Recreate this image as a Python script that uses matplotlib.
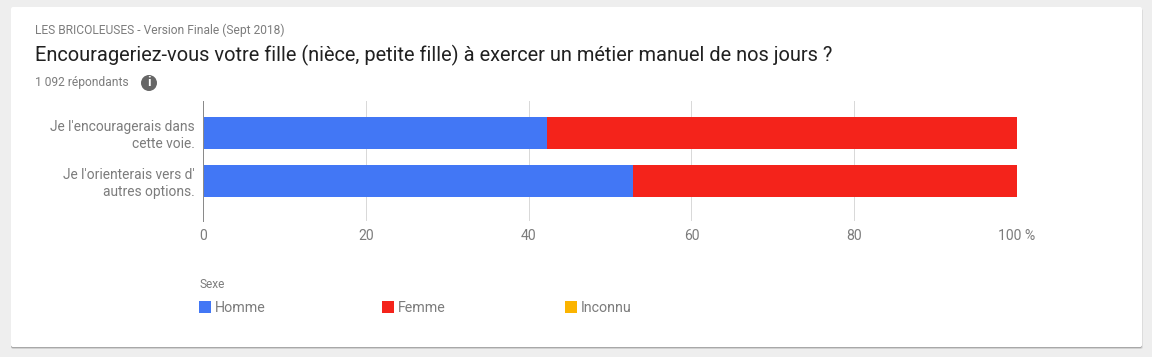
import matplotlib
matplotlib.use('Agg')
import matplotlib.pyplot as plt
from matplotlib.patches import Rectangle, Circle, FancyBboxPatch
from matplotlib.transforms import ScaledTranslation

plt.rcParams['font.family'] = ['Roboto', 'DejaVu Sans']

categories = ["Je l'encouragerais dans\ncette voie.", "Je l'orienterais vers d'\nautres options."]
homme = [42.2, 52.8]
femme = [57.8, 47.2]
inconnu = [0, 0]
ticks = [0, 20, 40, 60, 80, 100]
tick_labels = ['0', '20', '40', '60', '80', '100 %']
series_names = ['Homme', 'Femme', 'Inconnu']
colors = ['#4277f5', '#f4231b', '#fbb400']
grey = '#7c7c7c'

W, H = 1152, 357
fig = plt.figure(figsize=(W / 100, H / 100), dpi=100, facecolor='#eeeeee')

# background layer in pixel coordinates, y going down
bg = fig.add_axes([0, 0, 1, 1], zorder=0)
bg.set_xlim(0, W)
bg.set_ylim(H, 0)
bg.axis('off')
bg.add_patch(FancyBboxPatch((11, 9), 1132, 340, boxstyle='round,pad=0,rounding_size=2', fc='#dcdcdc', ec='none'))
bg.add_patch(FancyBboxPatch((11, 8.2), 1131, 340, boxstyle='round,pad=0,rounding_size=2', fc='#a8a8a8', ec='none'))
bg.add_patch(FancyBboxPatch((11, 7), 1131, 340, boxstyle='round,pad=0,rounding_size=2', fc='white', ec='none'))

bg.text(35, 30, 'LES BRICOLEUSES - Version Finale (Sept 2018)', fontsize=8.65, color=grey, va='center')
bg.text(35, 55, 'Encourageriez-vous votre fille (nièce, petite fille) à exercer un métier manuel de nos jours ?',
        fontsize=14.4, color='#212121', va='center')
bg.text(35, 82.5, '1 092 répondants', fontsize=8.65, color=grey, va='center')
bg.add_patch(Circle((149, 83), 8, fc='#666666', ec='none'))
bg.text(149, 83, 'i', fontsize=9.5, color='white', ha='center', va='center', fontweight='bold')

# chart
ax = fig.add_axes([203 / W, 1 - 221 / H, 814 / W, 120 / H], zorder=1)
ax.patch.set_alpha(0)
ypos = list(range(len(categories)))
ax.barh(ypos, homme, height=0.667, color=colors[0], zorder=2)
ax.barh(ypos, femme, left=homme, height=0.667, color=colors[1], zorder=2)
ax.barh(ypos, inconnu, left=[a + b for a, b in zip(homme, femme)], height=0.667, color=colors[2], zorder=2)
ax.set_xlim(0, 100)
ax.set_ylim(1.833, -0.667)
ax.set_xticks(ticks)
ax.set_xticklabels(tick_labels, fontsize=10.1, color=grey)
ax.set_yticks(ypos)
ax.set_yticklabels(categories, fontsize=9.95, color=grey, linespacing=1.32)
ax.tick_params(axis='both', length=0)
ax.tick_params(axis='x', pad=6)
ax.tick_params(axis='y', pad=6)
# labels sit slightly above the bar centre
nudge = ScaledTranslation(0, 1 / 100, fig.dpi_scale_trans)
for lab in ax.get_yticklabels():
    lab.set_transform(lab.get_transform() + nudge)
ax.grid(axis='x', color='#d9d9d9', lw=0.72, zorder=1)
ax.set_axisbelow(True)
for name, sp in ax.spines.items():
    sp.set_visible(name == 'left')
ax.spines['left'].set_color('#8a8a8a')
ax.spines['left'].set_linewidth(0.72)

# legend
bg.text(199, 284, 'Sexe', fontsize=8.6, color=grey, va='center')
for x, name, col in zip([199, 382, 565], series_names, colors):
    bg.add_patch(Rectangle((x, 301), 12, 12, fc=col, ec='none'))
    bg.text(x + 16, 307.5, name, fontsize=10.3, color=grey, va='center')

fig.savefig('out.png', dpi=100, facecolor=fig.get_facecolor())
